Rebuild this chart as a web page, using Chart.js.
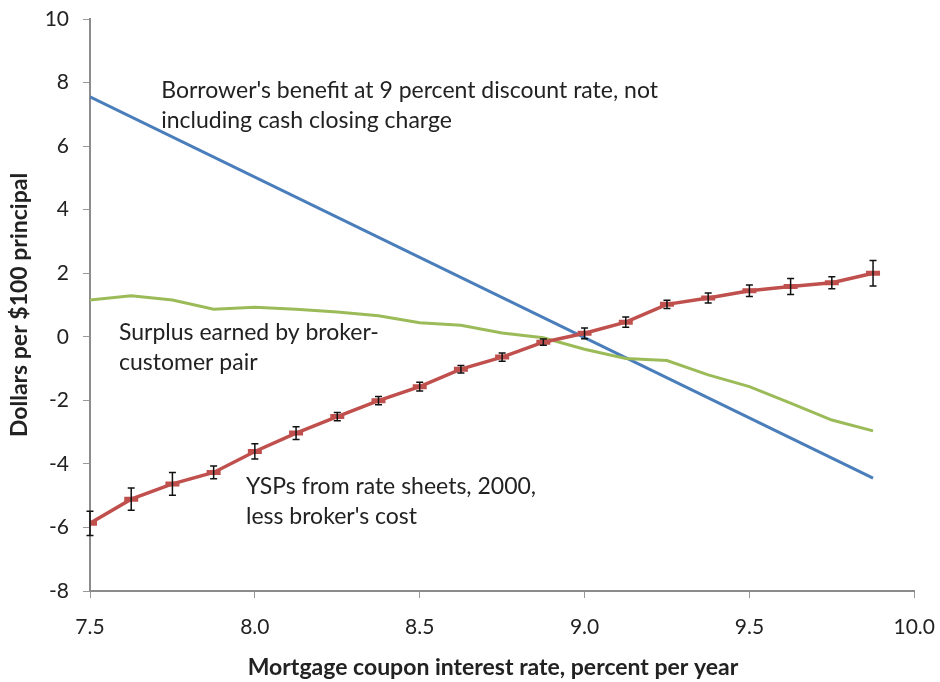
<!DOCTYPE html>
<html>
<head>
<meta charset="utf-8">
<script src="https://cdn.jsdelivr.net/npm/chart.js@4/dist/chart.umd.min.js"></script>
<style>
  body { margin: 0; background: #fff; }
  canvas { display: block; }
</style>
</head>
<body>
<canvas id="chart" width="940" height="682"></canvas>
<script>
// coupon rates (x) for the YSP and surplus series
const rates = [7.5, 7.625, 7.75, 7.875, 8.0, 8.125, 8.25, 8.375, 8.5, 8.625,
               8.75, 8.875, 9.0, 9.125, 9.25, 9.375, 9.5, 9.625, 9.75, 9.875];

// YSPs from rate sheets, less broker's cost, with +/- error
const yspValues = [-5.87, -5.11, -4.63, -4.27, -3.61, -3.03, -2.51, -2.01, -1.57, -1.02,
                   -0.64, -0.17, 0.11, 0.46, 1.02, 1.22, 1.45, 1.58, 1.70, 2.00];
const yspErrors = [0.38, 0.35, 0.36, 0.20, 0.24, 0.20, 0.13, 0.13, 0.14, 0.12,
                   0.13, 0.10, 0.17, 0.16, 0.13, 0.16, 0.18, 0.25, 0.19, 0.40];

// surplus earned by broker-customer pair
const surplusValues = [1.16, 1.29, 1.16, 0.87, 0.93, 0.87, 0.78, 0.66, 0.44, 0.36,
                       0.12, -0.03, -0.39, -0.68, -0.75, -1.20, -1.57, -2.09, -2.62, -2.96];

// borrower's benefit (straight line)
const benefitRates = [7.5, 9.875];
const benefitValues = [7.55, -4.45];

// axis ticks
const xTicks = [7.5, 8.0, 8.5, 9.0, 9.5, 10.0];
const yTicks = [-8, -6, -4, -2, 0, 2, 4, 6, 8, 10];

const xTitle = 'Mortgage coupon interest rate, percent per year';
const yTitle = 'Dollars per $100 principal';

// text notes placed in data units
const notes = [
    { x: 7.716, y: 7.76, lines: ["Borrower's benefit at 9 percent discount rate, not", "including cash closing charge"] },
    { x: 7.588, y: 0.13, lines: ["Surplus earned by broker-", "customer pair"] },
    { x: 7.973, y: -4.70, lines: ["YSPs from rate sheets, 2000,", "less broker's cost"] }
];

const FONT = 'Lato, "Open Sans", sans-serif';
const TEXT = '#222222';

let toXY = function (xs, ys) {
    return xs.map((x, i) => ({ x: x, y: ys[i] }));
};

const errorBars = {
    id: 'errorBars',
    afterDatasetsDraw(chart) {
        const meta = chart.getDatasetMeta(0);
        const ys = chart.scales.y;
        const c = chart.ctx;
        c.save();
        c.strokeStyle = '#111';
        c.lineWidth = 1.5;
        meta.data.forEach((pt, i) => {
            const top = ys.getPixelForValue(yspValues[i] + yspErrors[i]);
            const bot = ys.getPixelForValue(yspValues[i] - yspErrors[i]);
            c.beginPath();
            c.moveTo(pt.x, top); c.lineTo(pt.x, bot);
            c.moveTo(pt.x - 3.5, top); c.lineTo(pt.x + 3.5, top);
            c.moveTo(pt.x - 3.5, bot); c.lineTo(pt.x + 3.5, bot);
            c.stroke();
        });
        c.restore();
    }
};

const noteText = {
    id: 'noteText',
    afterDraw(chart) {
        const c = chart.ctx;
        c.save();
        c.font = '23px ' + FONT;
        c.fillStyle = TEXT;
        c.textBaseline = 'middle';
        notes.forEach(n => {
            const px = chart.scales.x.getPixelForValue(n.x);
            const py = chart.scales.y.getPixelForValue(n.y);
            n.lines.forEach((t, i) => c.fillText(t, px, py + i * 30));
        });
        // x axis title, a little left of the plot centre as in the original
        c.font = 'bold 23px ' + FONT;
        c.textAlign = 'center';
        c.fillText(xTitle, chart.chartArea.left + 403, 668);
        c.restore();
    }
};

new Chart(document.getElementById('chart').getContext('2d'), {
    type: 'line',
    data: {
        datasets: [{
            label: 'YSPs',
            data: toXY(rates, yspValues),
            borderColor: '#c0504d',
            borderWidth: 3.5,
            pointStyle: 'line',
            pointRadius: 7,
            pointBorderWidth: 5,
            pointBorderColor: '#c0504d',
            fill: false,
            order: 0
        }, {
            label: 'Surplus',
            data: toXY(rates, surplusValues),
            borderColor: '#9bbb59',
            borderWidth: 3,
            pointRadius: 0,
            fill: false,
            order: 1
        }, {
            label: 'Benefit',
            data: toXY(benefitRates, benefitValues),
            borderColor: '#4a7ebb',
            borderWidth: 3,
            pointRadius: 0,
            fill: false,
            order: 2
        }]
    },
    options: {
        responsive: false,
        animation: false,
        layout: { padding: { top: 19, right: 25, left: 0, bottom: 0 } },
        plugins: { legend: { display: false }, tooltip: { enabled: false } },
        scales: {
            x: {
                type: 'linear', min: 7.5, max: 10,
                afterBuildTicks: s => { s.ticks = xTicks.map(v => ({ value: v })); },
                afterFit: s => { s.height = 91; },
                ticks: { callback: v => v.toFixed(1), font: { family: FONT, size: 21, lineHeight: 2.34 }, color: TEXT, padding: 5, maxRotation: 0 },
                grid: { drawOnChartArea: false, drawTicks: true, tickLength: 7, color: '#999' },
                border: { color: '#8c8c8c', width: 2 },
                title: { display: false }
            },
            y: {
                min: -8, max: 10,
                afterBuildTicks: s => { s.ticks = yTicks.map(v => ({ value: v })); },
                afterFit: s => { s.width = 90; },
                ticks: { font: { family: FONT, size: 21, lineHeight: 0.4 }, color: TEXT, padding: 14 },
                grid: { drawOnChartArea: false, drawTicks: true, tickLength: 7, color: '#999' },
                border: { color: '#8c8c8c', width: 2 },
                title: { display: true, text: yTitle, font: { family: FONT, size: 23, weight: 'bold' }, color: TEXT, padding: { top: 6, bottom: 0 } }
            }
        }
    },
    plugins: [errorBars, noteText]
});
</script>
</body>
</html>
